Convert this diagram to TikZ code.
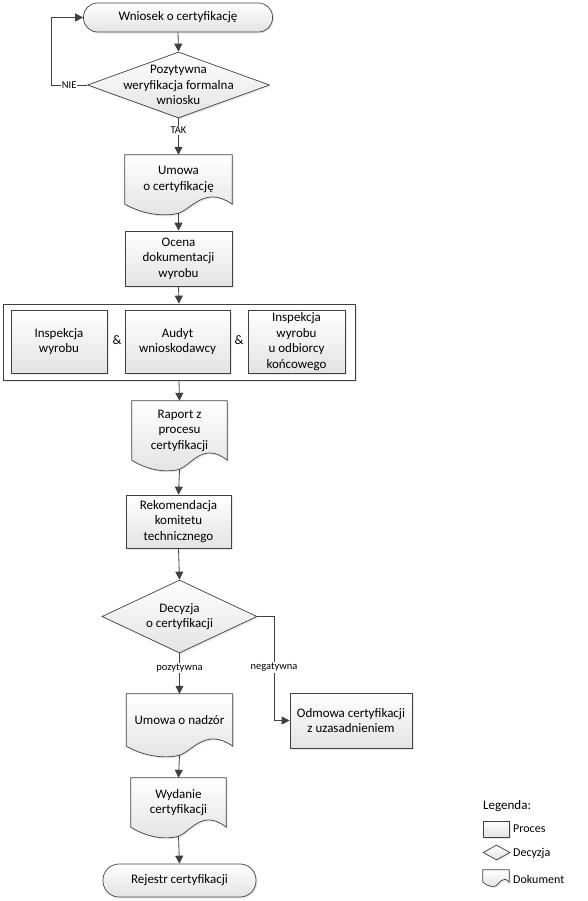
\documentclass[tikz,border=0pt]{standalone}
\usepackage{fontspec}
\setmainfont{Carlito}
\usetikzlibrary{shapes.geometric,arrows.meta,calc,backgrounds,shadows}
\definecolor{edgec}{HTML}{404040}
\newcommand\mainfs{\fontsize{13}{15.5}\selectfont}
\newcommand\lblfs{\fontsize{10.5}{12}\selectfont}
\newcommand\legfs{\fontsize{12}{14}\selectfont}
\tikzset{
 shapefill/.style={top color=white, bottom color=black!11, draw=edgec, line width=0.7pt},
 shd/.style={drop shadow={opacity=0.18, shadow xshift=1.5pt, shadow yshift=-1.5pt}},
 procbox/.style={rectangle, shapefill, shd, align=center, font=\mainfs, inner sep=2pt},
 termbox/.style={rectangle, rounded corners=14pt, shapefill, shd, font=\mainfs},
 decbox/.style={diamond, shapefill, shd, inner sep=0pt},
 docnode/.style={rectangle, align=center, font=\mainfs, inner sep=2pt},
 docshape/.style={shapefill, shd},
 conn/.style={draw=edgec, line width=0.8pt, -{Triangle[length=8pt,width=8pt]}},
 lbl/.style={fill=white, font=\lblfs, inner sep=1pt},
 legtext/.style={font=\legfs, anchor=west, inner sep=0pt},
}
\newcommand\DocShape[2]{%
 \begin{scope}[on background layer]
 \path[docshape] let \p1=(#1.south west), \p2=(#1.north east), \n1={\x2-\x1} in
  (\x1,\y2) -- (\x2,\y2) -- (\x2,\y1)
  .. controls (\x1+0.75*\n1, \y1+#2*19pt) and (\x1+0.62*\n1, \y1-#2*5pt) .. (\x1+0.5*\n1, \y1-#2*9pt)
  .. controls (\x1+0.4*\n1, \y1-#2*12pt) and (\x1+0.2*\n1, \y1-#2*12pt) .. (\x1,\y1) -- cycle;
 \end{scope}
 \coordinate (#1-b) at ($(#1.south)+(0pt,-#2*9pt)$);}
\begin{document}
\begin{tikzpicture}[x=1pt, y=-1pt]
\useasboundingbox (0,0) rectangle (588,901);
% main column
\node[termbox, minimum width=189pt, minimum height=29pt] (start) at (178,17.5) {Wniosek o certyfikację};
\node[decbox, minimum width=182pt, minimum height=66pt,
  label={[font=\mainfs,align=center]center:Pozytywna\\weryfikacja formalna\\wniosku}] (d1) at (178.5,85) {};
\node[docnode, minimum width=107pt, minimum height=49pt] (umowa) at (178.5,179.5) {Umowa\\o certyfikację};
\DocShape{umowa}{1}
\node[procbox, minimum width=107pt, minimum height=55pt] (ocena) at (178.5,258.5) {Ocena\\dokumentacji\\wyrobu};
% group
\node[rectangle, draw=edgec, fill=white, shd, line width=0.7pt, minimum width=352pt, minimum height=76pt] (grp) at (179,342) {};
\node[procbox, minimum width=96pt, minimum height=63pt] (b1) at (59,341.5) {Inspekcja\\wyrobu};
\node[procbox, minimum width=105pt, minimum height=63pt] (b2) at (177.5,341.5) {Audyt\\wnioskodawcy};
\node[procbox, minimum width=97pt, minimum height=63pt, inner sep=0pt] (b3) at (296.5,341.5) {Inspekcja\\wyrobu\\u odbiorcy\\końcowego};
\node[font=\mainfs, inner sep=1pt] (amp1) at (117,340) {\&};
\node[font=\mainfs, inner sep=1pt] (amp2) at (239,340) {\&};
\node[docnode, minimum width=95pt, minimum height=59pt] (raport) at (179.5,430.5) {Raport z\\procesu\\certyfikacji};
\DocShape{raport}{1}
\node[procbox, minimum width=105pt, minimum height=53pt] (rek) at (178.5,521.5) {Rekomendacja\\komitetu\\technicznego};
\node[decbox, minimum width=155pt, minimum height=73pt,
  label={[font=\mainfs,align=center]center:Decyzja\\o certyfikacji}] (d2) at (179.5,616.5) {};
\node[docnode, minimum width=106pt, minimum height=52pt] (nadzor) at (179.5,720) {Umowa o nadzór};
\DocShape{nadzor}{1}
\node[procbox, minimum width=122pt, minimum height=55pt] (odmowa) at (351,720.5) {Odmowa certyfikacji\\z uzasadnieniem};
\node[docnode, minimum width=95pt, minimum height=49pt] (wydanie) at (178.5,802.5) {Wydanie\\certyfikacji};
\DocShape{wydanie}{1}
\node[termbox, rounded corners=16pt, minimum width=153pt, minimum height=33pt] (end) at (179.5,880.5) {Rejestr certyfikacji};
% connectors
\draw[conn] (start.south) -- (d1.north);
\draw[conn] (d1.west) -- node[lbl] (nie) {NIE} ++(-36,0) |- (start.west);
\draw[conn] (d1.south) -- node[lbl, pos=0.33] (tak) {TAK} (umowa.north);
\draw[conn] (umowa-b) -- (ocena.north);
\draw[conn] (ocena.south) -- (grp.north);
\draw[conn] (grp.south) -- (raport.north);
\draw[conn] (raport-b) -- (rek.north);
\draw[conn] (rek.south) -- (d2.north);
\draw[conn] (d2.south) -- node[lbl, pos=0.37] (poz) {pozytywna} (nadzor.north);
\coordinate (nb) at (274,0);
\draw[conn] (d2.east) -- (d2.east -| nb) -- node[lbl, pos=0.49] (neg) {negatywna} (odmowa.west -| nb) -- (odmowa.west);
\draw[conn] (nadzor-b) -- (wydanie.north);
\draw[conn] (wydanie-b) -- (end.north);
% legend
\node[legtext, font=\fontsize{13}{15}\selectfont] (legt) at (483,806) {Legenda:};
\node[procbox, minimum width=26pt, minimum height=16pt, inner sep=0pt] (lp) at (496,829) {};
\node[legtext] (lpt) at (513,829) {Proces};
\node[decbox, minimum width=27pt, minimum height=15pt] (ld) at (496.5,852.5) {};
\node[legtext] (ldt) at (513,853) {Decyzja};
\node[docnode, minimum width=26pt, minimum height=12pt, inner sep=0pt] (ldoc) at (496,876) {};
\DocShape{ldoc}{0.4}
\node[legtext] (ldoct) at (513,879) {Dokument};
\end{tikzpicture}
\end{document}
